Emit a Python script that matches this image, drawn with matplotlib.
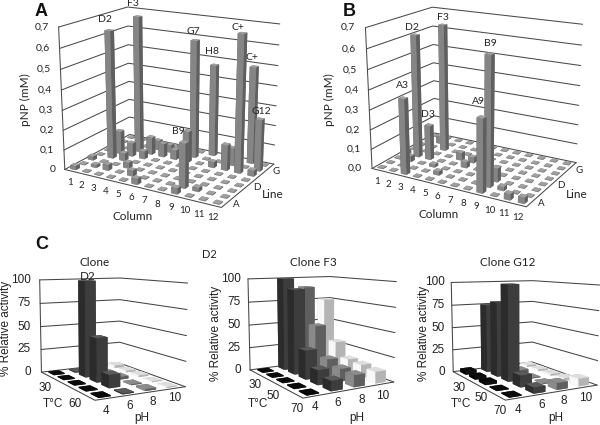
import numpy as np
import matplotlib
matplotlib.use('Agg')
import matplotlib.pyplot as plt
from mpl_toolkits.mplot3d import proj3d

W, H = 600, 425
UI = 'Lato'
ARIAL = 'Liberation Sans'

# ---------- data: panels A and B (well plate, column / line / pNP in mM) ----------
plate_columns = list(range(1, 13))
plate_lines = list('ABCDEFGH')
plate_ticks = [0.0, 0.1, 0.2, 0.3, 0.4, 0.5, 0.6, 0.7]
plate_floor = 0.004

A_cols = [2, 3, 7, 8, 11, 11, 12, 9, 1, 2, 1, 2, 3, 4, 3, 4, 5, 6, 4, 5, 6, 7, 10, 10, 3, 4, 5, 6, 9, 10, 12, 9]
A_rows = [4, 6, 7, 8, 6, 8, 7, 2, 1, 2, 3, 5, 5, 6, 4, 3, 2, 1, 7, 6, 6, 6, 6, 7, 2, 5, 7, 7, 1, 2, 6, 6]
A_vals = [.65, .70, .60, .47, .68, .49, .26, .22, .02, .015, .02, .12, .07, .09, .04, .03, .03, .03,
          .05, .07, .05, .16, .13, .09, .03, .04, .04, .05, .03, .02, .03, .03]

B_cols = [3, 2, 3, 3, 9, 9, 9, 1, 5, 1, 2, 11, 12, 10, 5, 6, 2, 4, 6]
B_rows = [1, 4, 4, 6, 1, 2, 3, 4, 2, 7, 7, 1, 1, 2, 5, 5, 3, 3, 4]
B_vals = [.38, .63, .18, .66, .36, .63, .07, .02, .02, .03, .04, .03, .03, .02, .04, .03, .03, .015, .03]

# ---------- data: panel C (T index in rows, one list per pH) ----------
temps_idx = [0, 1, 2, 3, 4]
ph_values = [4, 6, 8, 10]
C_ticks = [0, 25, 50, 75, 100]
C1_data = [[1, 1, 1, 1, 1], [1, 100, 45, 13, 1], [1, 2, 3, 1, 2], [3, 2, 2, 1, 1]]
C2_data = [[1, 1, 1, 1, 1], [100, 90, 30, 15, 10], [90, 50, 18, 13, 12], [75, 30, 15, 14, 12]]
C3_data = [[4, 3, 3, 1, 1], [75, 80, 100, 12, 6], [10, 4, 1, 1, 7], [2, 2, 2, 3, 8]]

# face colours (top, -y, +x)
plate_face = ('#a0a0a0', '#858585', '#5f5f5f')
ph_faces = [('#0a0a0a', '#050505', '#101010'),
            ('#5a5a5a', '#2b2b2b', '#3d3d3d'),
            ('#8c8c8c', '#8a8a8a', '#5f5f5f'),
            ('#dedede', '#f8f8f8', '#b4b4b4')]

fig = plt.figure(figsize=(W / 100, H / 100), dpi=100)


def txt(px, py, s, size=8, family=UI, rot=0, ha='center', va='center', weight='normal', color='#222222'):
    fig.text(px / W, 1 - py / H, s, fontsize=size, family=family, rotation=rot,
             ha=ha, va=va, weight=weight, color=color)


def make_axes(view, lims, targets):
    elev, azim, focal, ay, az = view
    ax = fig.add_axes([0, 0, 1, W / H], projection='3d', computed_zorder=False)
    ax.set_axis_off()
    ax.patch.set_visible(False)
    ax.view_init(elev=elev, azim=azim)
    ax.set_proj_type('persp', focal_length=focal)
    ax.set_box_aspect((1, ay, az))
    ax.set_xlim(0, lims[0]); ax.set_ylim(0, lims[1]); ax.set_zlim(0, lims[2])
    ax.apply_aspect()
    ax.M = ax.get_proj()
    T = np.array(targets, float)
    X, Y, _ = proj3d.proj_transform(T[:, 0] * lims[0], T[:, 1] * lims[1], T[:, 2] * lims[2], ax.M)
    pix = ax.transData.transform(np.column_stack([X, Y]))
    n = len(T)
    A = np.zeros((2 * n, 3)); b = np.zeros(2 * n)
    A[:n, 0] = pix[:, 0]; A[:n, 1] = 1; b[:n] = T[:, 3]
    A[n:, 0] = pix[:, 1]; A[n:, 2] = 1; b[n:] = H - T[:, 4]
    (s, tx, ty), *_ = np.linalg.lstsq(A, b, rcond=None)
    p = ax.get_position()
    l = s * p.x0 * W + tx; bt = s * p.y0 * H + ty; w = s * p.width * W
    ax.set_position([l / W, bt / H, w / W, w / H])
    ax.apply_aspect()
    return ax


def to_px(ax, x, y, z):
    X, Y, _ = proj3d.proj_transform(x, y, z, ax.M)
    u, v = ax.transData.transform((float(X), float(Y)))
    return u, H - v


def walls(ax, lims, ticks, color='#4a4a4a', lw=0.75):
    xm, ym, zm = lims
    kw = dict(color=color, lw=lw, zorder=1, solid_capstyle='round')
    for z in ticks:
        ax.plot([0, 0, xm], [0, ym, ym], [z, z, z], **kw)
    ax.plot([0, 0], [0, 0], [0, zm], **kw)
    ax.plot([0, xm, xm], [0, 0, ym], [0, 0, 0], **kw)


def draw_bars(ax, cells, wx, wy):
    # cells: (x_center, y_center, height, faces); painted back to front
    for i, (cx, cy, h, f) in enumerate(sorted(cells, key=lambda c: (-c[1], c[0]))):
        top, front, side = f
        ax.bar3d(cx - wx / 2, cy - wy / 2, 0, wx, wy, h,
                 color=[top, top, front, front, side, side],
                 shade=False, linewidth=0, zorder=2 + i * 0.01)


def plate_panel(view, targets, cols, rows, vals, zero_label, zdx):
    lims = (12, 8, 0.7)
    ax = make_axes(view, lims, targets)
    walls(ax, lims, plate_ticks)
    grid = {(c, r): plate_floor for c in plate_columns for r in range(1, len(plate_lines) + 1)}
    for c, r, v in zip(cols, rows, vals):
        grid[(c, r)] = v
    cells = [(c - .5, r - .5, v, plate_face) for (c, r), v in grid.items()]
    draw_bars(ax, cells, .46, .46)
    for z in plate_ticks:
        u, v = to_px(ax, 0, 0, z)
        s = zero_label if z == 0 else ('%.1f' % z).replace('.', ',')
        txt(u + zdx, v, s, ha='right', size=7.5)
    for c in plate_columns:
        u, v = to_px(ax, c - .5, 0, 0)
        txt(u - 1, v + 12, str(c), size=7)
    for name in 'ADG':
        r = plate_lines.index(name) + .5
        u, v = to_px(ax, 12, r, 0)
        txt(u + 11, v, name, size=7)
    return ax


def ph_panel(view, targets, data, tlabels, phpos, zright):
    lims = (5, 4, 100)
    ax = make_axes(view, lims, targets)
    walls(ax, lims, C_ticks, color='#444444')
    cells = []
    for j, series in enumerate(data):
        for i, v in zip(temps_idx, series):
            cells.append((i + .5, j + .5, v, ph_faces[j]))
    draw_bars(ax, cells, .62, .5)
    for z in C_ticks:
        u, v = to_px(ax, 0, 0, z)
        txt(zright, v, str(z), ha='right', size=8.5, family=ARIAL)
    for s, (x, y) in zip(tlabels, [p for p in phpos[0]]):
        txt(x, y, s, size=8.5, family=ARIAL)
    for p, (x, y) in zip(ph_values, phpos[1]):
        txt(x, y, str(p), size=8.5, family=ARIAL)
    return ax


def corners(xs):
    cube = [(0, 0, 0), (1, 0, 0), (1, 1, 0), (0, 0, 1), (0, 1, 1), (1, 1, 1)]
    return [c + p for c, p in zip(cube, xs)]


# ---------- panel A ----------
plate_panel((17.263, -59.746, 0.568, 0.678, 0.829),
            corners([(64, 169), (222, 208), (275, 164), (59, 27), (128, 7), (278, 24)]),
            A_cols, A_rows, A_vals, '0', -9.5)
txt(41, 12, 'A', size=13, family=ARIAL, weight='bold', color='#111111')
txt(133, 217, 'Column', size=8.5)
txt(273, 195, 'Line', size=8.5)
txt(25, 100, 'pNP (mM)', size=8.5, rot=90)
for s, x, y in [('D2', 105, 20), ('F3', 133, 4), ('G7', 193, 31), ('H8', 212, 52),
                ('C+', 238, 28), ('C+', 252, 57), ('G12', 261, 112), ('B9', 178, 132)]:
    txt(x, y, s, size=7.5)

# ---------- panel B ----------
plate_panel((18.013, -60.191, 0.546, 0.673, 0.838),
            corners([(372, 168), (527, 207), (577, 163), (365, 28), (433, 7), (581, 24)]),
            B_cols, B_rows, B_vals, '0,0', -10)
txt(349, 12, 'B', size=13, family=ARIAL, weight='bold', color='#111111')
txt(439, 214, 'Column', size=8.5)
txt(577, 195, 'Line', size=8.5)
txt(329, 100, 'pNP (mM)', size=8.5, rot=90)
for s, x, y in [('D2', 412, 28), ('F3', 443, 17), ('A3', 402, 86), ('D3', 428, 114),
                ('A9', 478, 101), ('B9', 490, 43)]:
    txt(x, y, s, size=7.5)

# ---------- panel C ----------
txt(42, 245, 'C', size=13, family=ARIAL, weight='bold', color='#111111')

ph_panel((8.248, -28.877, 0.530, 0.775, 0.788),
         corners([(42, 372), (95, 400), (185, 387), (39, 280), (120, 278), (188, 283)]),
         C1_data, ['30', '60'],
         ([(45, 388), (75, 404)], [(106, 411), (130, 406), (153, 402), (175, 398)]), 31)
txt(95, 262, 'Clone', size=8.5)
txt(88, 276, 'D2', size=8.5)
txt(6, 328, '% Relative activity', size=8.5, family=ARIAL, rot=90)
txt(53, 404, 'T°C', size=8.5, family=ARIAL)
txt(142, 418, 'pH', size=8.5, family=ARIAL)

ph_panel((9.020, -30.890, 0.496, 0.864, 0.833),
         corners([(250, 370), (303, 398), (393, 382), (248, 278), (330, 277), (397, 282)]),
         C2_data, ['30', '50', '70'],
         ([(255, 385), (273, 396), (297, 409)], [(315, 407), (338, 403), (362, 400), (383, 396)]), 241)
txt(209, 255, 'D2', size=8)
txt(313, 262, 'Clone F3', size=8.5)
txt(216, 333, '% Relative activity', size=8.5, family=ARIAL, rot=90)
txt(258, 404, 'T°C', size=8.5, family=ARIAL)
txt(357, 418, 'pH', size=8.5, family=ARIAL)

ph_panel((8.456, -29.688, 0.485, 0.825, 0.794),
         corners([(453, 372), (505, 400), (597, 385), (452, 283), (532, 280), (600, 285)]),
         C3_data, ['30', '50', '70'],
         ([(459, 388), (481, 398), (500, 411)], [(518, 410), (542, 405), (564, 401), (586, 398)]), 445)
txt(508, 262, 'Clone G12', size=8.5)
txt(424, 333, '% Relative activity', size=8.5, family=ARIAL, rot=90)
txt(461, 404, 'T°C', size=8.5, family=ARIAL)
txt(556, 418, 'pH', size=8.5, family=ARIAL)

fig.savefig('out.png', dpi=100, facecolor='white')
